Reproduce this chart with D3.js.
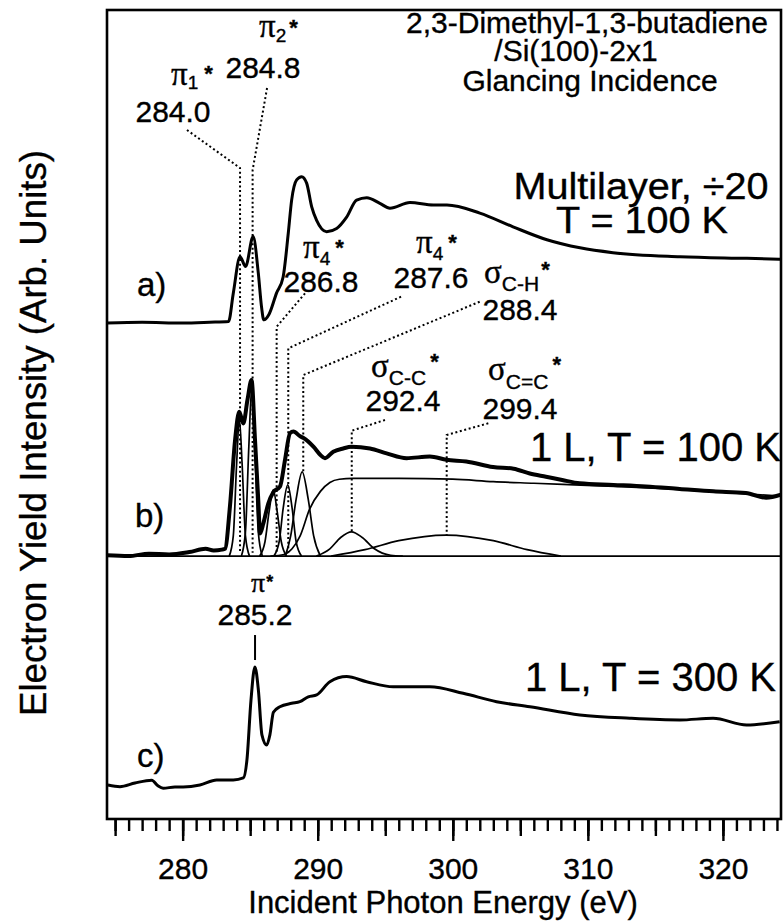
<!DOCTYPE html>
<html><head><meta charset="utf-8">
<script src="https://cdn.jsdelivr.net/npm/d3@7"></script>
<style>
body{margin:0;background:#fff}
svg{display:block}
text{font-family:"Liberation Sans",Arial,Helvetica,sans-serif;fill:#000;stroke:#000;stroke-width:0.35}
</style>
</head><body>
<svg id="chart" width="784" height="921"></svg>
<script>
// ---------------- data (energy eV, intensity arb. units) ----------------
const energyDomain = [274.4, 324.3];
const intensityDomain = [0, 100];
const majorTicks = [280, 290, 300, 310, 320];
const xTitle = "Incident Photon Energy (eV)";
const yTitle = "Electron Yield Intensity (Arb. Units)";

// a) Multilayer, ÷20, T = 100 K
const spectrumA = [[274.4,61.3],[277,61.4],[280,61.3],[282,61.4],[283.4,61.5],[283.75,65.0],[284.25,69.5],[284.66,68.3],[285.22,72.0],[285.6,67.5],[285.84,63.3],[286.01,61.7],[286.4,62.4],[286.95,65.0],[287.44,67.0],[287.82,72.4],[288.07,76.5],[288.44,79.0],[288.81,79.4],[289.18,78.6],[289.55,75.7],[289.92,74.0],[290.66,72.6],[291.4,73.0],[292.14,74.4],[292.88,76.5],[293.63,76.8],[294.6,76.1],[295.35,75.5],[296.83,76.2],[298.56,75.9],[299.57,75.9],[302.0,74.9],[304.46,73.2],[306.97,71.6],[309.42,70.6],[311.86,70.0],[316.82,69.5],[321.78,69.3],[324.23,69.2]];

// b) 1 L, T = 100 K (measured)
const spectrumB = [[274.4,32.6],[276,32.5],[277.5,32.8],[279,32.7],[280.5,33.0],[281.7,33.4],[282.3,33.2],[282.9,33.3],[283.14,33.4],[283.5,38.6],[283.88,46.8],[284.19,50.35],[284.49,48.9],[284.8,51.8],[285.1,54.26],[285.36,46.8],[285.6,39.4],[285.73,35.3],[285.97,36.5],[286.34,39.0],[286.71,40.4],[287.21,41.1],[287.58,44.4],[287.95,47.7],[288.2,47.9],[288.7,47.3],[288.95,47.1],[289.7,46.0],[290.2,45.0],[290.54,44.6],[291.15,45.4],[291.89,45.8],[292.5,46.0],[293.87,45.8],[295.1,45.2],[296.58,44.6],[298.3,44.8],[299.54,44.4],[301.0,44.2],[302.98,43.5],[304.5,43.3],[305.7,42.7],[306.9,42.3],[308.1,41.9],[309.4,41.5],[311.9,41.3],[314.3,41.1],[316.8,40.8],[319.3,40.5],[321.7,40.3],[323.2,39.7],[324.3,40.1]];
const baselineB = 32.5;
// b) fit components
const stepB = [[286.5,32.5],[287.5,32.7],[288.1,33.4],[288.7,35.0],[289.4,38.3],[290.2,40.5],[290.9,41.6],[291.6,42.0],[292.6,42.1],[296,42.1],[300,42.0],[303,41.7],[306,41.5],[309,41.3],[312,41.1],[316,40.8],[320,40.4],[324.3,39.9]];
const peakPi1 = [[283.45,32.5],[283.75,35],[284.0,44],[284.2,49.5],[284.4,44],[284.65,35],[284.95,32.5]];
const peakPi2 = [[284.35,32.5],[284.65,35.5],[284.9,46],[285.12,53.5],[285.34,46],[285.6,35.5],[285.9,32.5]];
const peakPi4a = [[285.7,32.5],[286.1,34.3],[286.4,38],[286.71,40.7],[287.0,38],[287.3,34.3],[287.7,32.5]];
const peakPi4b = [[286.75,32.5],[287.15,34.3],[287.45,38.5],[287.78,41.3],[288.1,38.5],[288.4,34.3],[288.8,32.5]];
const peakSigCH = [[287.6,32.5],[288.0,35],[288.4,39.5],[288.85,42.9],[289.3,39.5],[289.7,35],[290.2,32.5]];
const peakSigCC = [[289.9,32.5],[290.9,33.4],[291.7,34.8],[292.5,35.5],[293.3,34.8],[294.2,33.4],[295.4,32.6],[296.3,32.5]];
const peakSigCdC = [[291,32.5],[293.5,33.3],[296,34.4],[299.5,35.1],[303,34.4],[305.5,33.3],[308,32.5]];
const fitPeaks = [peakPi1, peakPi2, peakPi4a, peakPi4b, peakSigCH, peakSigCC, peakSigCdC];

// c) 1 L, T = 300 K
const spectrumC = [[274.47,4.2],[275.36,4.0],[276.47,4.45],[277.71,4.8],[278.17,4.1],[278.56,3.8],[279.43,3.96],[280.04,3.96],[281.28,4.2],[282.52,4.82],[283.75,4.82],[284.49,5.07],[284.76,7.3],[285.06,14.7],[285.35,18.8],[285.61,15.9],[285.87,10.4],[286.22,9.15],[286.46,10.4],[286.72,13.2],[287.2,13.88],[288.07,14.3],[288.68,14.5],[289.3,15.1],[289.92,15.33],[290.9,16.97],[292.14,17.6],[293.62,16.97],[295.59,16.35],[298.3,16.35],[300.77,15.54],[303.24,14.5],[305.71,13.88],[309.41,12.86],[313.11,12.45],[316.81,12.24],[319.27,12.45],[321.75,11.62],[324.2,12.03]];

// dotted leader lines for the peak assignments
const leaders = [
  [[280.32,85.17],[284.25,80.47],[284.25,32.9]],
  [[286.25,90.36],[285.18,80.2],[285.18,32.9]],
  [[289.06,64.98],[286.96,60.85],[286.96,32.9]],
  [[296.17,64.56],[287.82,58.18],[287.82,32.9]],
  [[301.99,63.94],[288.93,54.88],[288.93,42.9]],
  [[294.98,49.32],[292.52,48.0],[292.52,35.5]],
  [[302.63,48.91],[299.55,47.47],[299.55,35.1]]
];

// ---------------- drawing ----------------
const svg = d3.select("#chart");
const x = d3.scaleLinear().domain(energyDomain).range([107, 781]);
const y = d3.scaleLinear().domain(intensityDomain).range([819, 10]);
const line = d3.line().x(d => x(d[0])).y(d => y(d[1])).curve(d3.curveMonotoneX);
const straight = d3.line().x(d => x(d[0])).y(d => y(d[1]));

// frame
svg.append("rect")
  .attr("x", x(energyDomain[0])).attr("y", y(intensityDomain[1]))
  .attr("width", x(energyDomain[1]) - x(energyDomain[0]))
  .attr("height", y(intensityDomain[0]) - y(intensityDomain[1]))
  .attr("fill", "none").attr("stroke", "#000").attr("stroke-width", 2.6);

// axes (minor, medium, major)
const axisG = svg.append("g").attr("transform", `translate(0,${y(0)})`);
const minor = d3.range(275, 325, 1);
const medium = d3.range(275, 325, 5);
axisG.append("g").call(d3.axisBottom(x).tickValues(minor).tickSize(12).tickFormat(""))
  .call(g => g.select(".domain").remove());
axisG.append("g").call(d3.axisBottom(x).tickValues(medium).tickSize(17).tickFormat(""))
  .call(g => g.select(".domain").remove());
const major = axisG.append("g").call(d3.axisBottom(x).tickValues(majorTicks).tickSize(22).tickPadding(17).tickFormat(d3.format("d")))
  .call(g => g.select(".domain").remove());
axisG.selectAll("line").attr("stroke", "#000").attr("stroke-width", 2.4);
major.selectAll("text").attr("font-size", 30).attr("font-family", "Liberation Sans, Arial, sans-serif")
  .attr("fill", "#000").attr("stroke", "#000").attr("stroke-width", 0.6);

svg.append("text").attr("x", 443).attr("y", 913).attr("text-anchor", "middle")
  .attr("font-size", 31).attr("stroke-width", 0.5).text(xTitle);
svg.append("text").attr("transform", "translate(46,433) rotate(-90)").attr("text-anchor", "middle")
  .attr("font-size", 36).attr("textLength", 566).attr("lengthAdjust", "spacingAndGlyphs").text(yTitle);

// baseline of b)
svg.append("path").datum([[energyDomain[0], baselineB], [energyDomain[1], baselineB]])
  .attr("d", straight).attr("fill", "none").attr("stroke", "#000").attr("stroke-width", 1.6);

// leaders
svg.append("g").selectAll("path").data(leaders).join("path")
  .attr("d", straight).attr("fill", "none").attr("stroke", "#000")
  .attr("stroke-width", 2).attr("stroke-dasharray", "2,2.6");

// fit components
svg.append("g").selectAll("path").data(fitPeaks.concat([stepB])).join("path")
  .attr("d", line).attr("fill", "none").attr("stroke", "#000").attr("stroke-width", 1.7);

// spectra
svg.append("path").datum(spectrumA).attr("d", line).attr("fill", "none")
  .attr("stroke", "#000").attr("stroke-width", 3).attr("stroke-linejoin", "round");
svg.append("path").datum(spectrumB).attr("d", line).attr("fill", "none")
  .attr("stroke", "#000").attr("stroke-width", 4).attr("stroke-linejoin", "round");
svg.append("path").datum(spectrumC).attr("d", line).attr("fill", "none")
  .attr("stroke", "#000").attr("stroke-width", 3).attr("stroke-linejoin", "round");

// pi* tick in c)
svg.append("path").datum([[285.36, 22.74], [285.36, 19.65]]).attr("d", straight)
  .attr("stroke", "#000").attr("stroke-width", 2);

// ---------------- text labels ----------------
const serif = "Liberation Serif, Times New Roman, serif";
function sym(px, py, greek, sub, o) {
  o = o || {};
  const t = svg.append("text").attr("x", px).attr("y", py);
  t.append("tspan").attr("font-family", serif).attr("font-size", o.gs || 33).text(greek);
  if (sub) t.append("tspan").attr("font-size", o.ss || 19).attr("dy", o.sdy || 6).text(sub);
  t.append("tspan").attr("font-size", o.st || 22).attr("dx", o.sdx || 3).attr("dy", o.tdy || -9).attr("font-weight", "bold").text("*");
}
function num(px, py, s, size) {
  svg.append("text").attr("x", px).attr("y", py).attr("text-anchor", "middle")
    .attr("font-size", size || 30).text(s);
}
sym(171, 85, "π", "1", {sdx: 6, sdy: 4, tdy: -8});
num(173, 122, "284.0");
sym(259, 37, "π", "2", {sdy: 5, tdy: -7});
num(263, 78, "284.8");
sym(303, 258, "π", "4", {sdy: 7, tdy: -10, sdx: 5});
num(321, 292, "286.8");
sym(416, 253, "π", "4", {sdy: 7, tdy: -10, sdx: 5});
num(431, 288, "287.6");
sym(484, 283, "σ", "C-H", {ss: 21, sdy: 8, tdy: -14, sdx: 2});
num(520, 320, "288.4");
sym(371, 377, "σ", "C-C", {ss: 21, sdy: 8, tdy: -16, sdx: 4});
num(403, 411, "292.4");
sym(488, 380, "σ", "C=C", {ss: 21, sdy: 9, tdy: -17, sdx: 4});
num(520, 419, "299.4");
sym(251, 592, "π", null, {gs: 28, st: 18, sdx: 1, tdy: -4});
num(255, 625, "285.2");

// panel labels
svg.append("text").attr("x", 137).attr("y", 296).attr("font-size", 33).text("a)");
svg.append("text").attr("x", 135).attr("y", 527).attr("font-size", 33).text("b)");
svg.append("text").attr("x", 137).attr("y", 767).attr("font-size", 33).text("c)");

// condition labels
svg.append("text").attr("x", 641).attr("y", 199).attr("text-anchor", "middle").attr("font-size", 36)
  .attr("textLength", 255).attr("lengthAdjust", "spacingAndGlyphs").text("Multilayer, ÷20");
svg.append("text").attr("x", 642).attr("y", 233).attr("text-anchor", "middle").attr("font-size", 36)
  .attr("textLength", 172).attr("lengthAdjust", "spacingAndGlyphs").text("T = 100 K");
svg.append("text").attr("x", 530).attr("y", 461).attr("font-size", 40).text("1 L, T = 100 K");
svg.append("text").attr("x", 525).attr("y", 691).attr("font-size", 40).text("1 L, T = 300 K");

// title block
svg.append("text").attr("x", 587).attr("y", 33).attr("text-anchor", "middle").attr("font-size", 30).text("2,3-Dimethyl-1,3-butadiene");
svg.append("text").attr("x", 576).attr("y", 61).attr("text-anchor", "middle").attr("font-size", 30).text("/Si(100)-2x1");
svg.append("text").attr("x", 590).attr("y", 91).attr("text-anchor", "middle").attr("font-size", 30).text("Glancing Incidence");
</script>
</body></html>
